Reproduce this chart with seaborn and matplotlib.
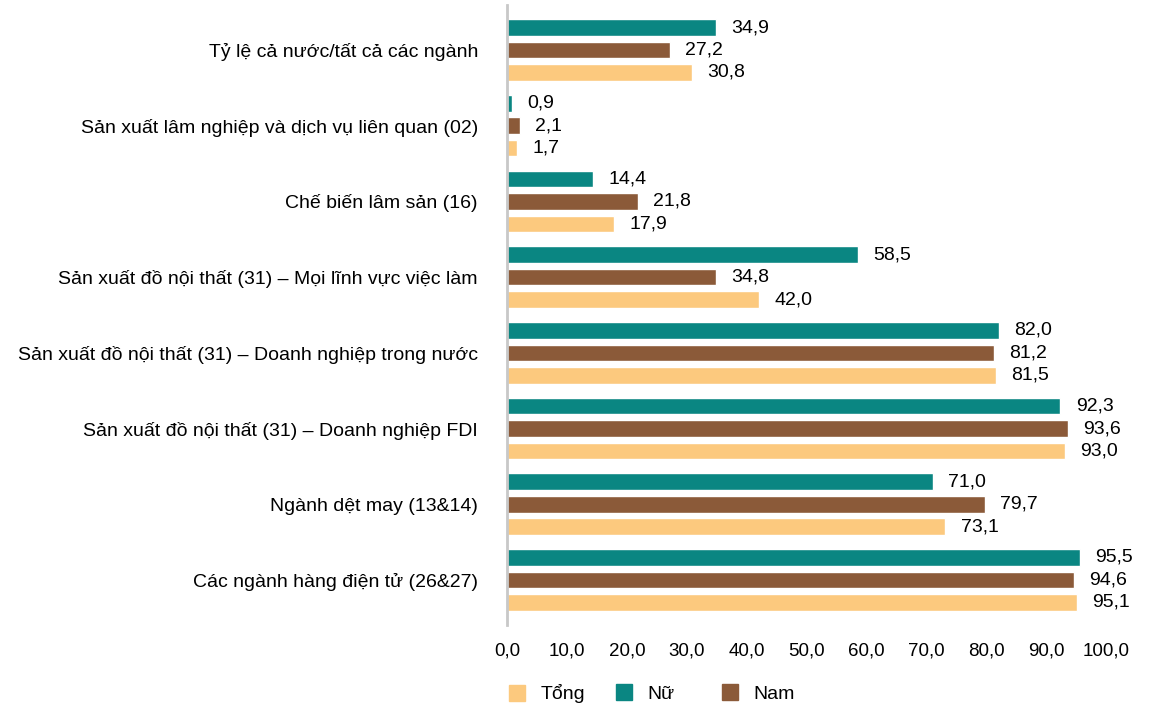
import pandas as pd
import numpy as np
import seaborn as sns
import matplotlib.pyplot as plt
from matplotlib.lines import Line2D

# du lieu doc tu bieu do
nganh = [
    'Tỷ lệ cả nước/tất cả các ngành',
    'Sản xuất lâm nghiệp và dịch vụ liên quan (02)',
    'Chế biến lâm sản (16)',
    'Sản xuất đồ nội thất (31) – Mọi lĩnh vực việc làm',
    'Sản xuất đồ nội thất (31) – Doanh nghiệp trong nước',
    'Sản xuất đồ nội thất (31) – Doanh nghiệp FDI',
    'Ngành dệt may (13&14)',
    'Các ngành hàng điện tử (26&27)',
]
nu = [34.9, 0.9, 14.4, 58.5, 82.0, 92.3, 71.0, 95.5]
nam = [27.2, 2.1, 21.8, 34.8, 81.2, 93.6, 79.7, 94.6]
tong = [30.8, 1.7, 17.9, 42.0, 81.5, 93.0, 73.1, 95.1]
x_ticks = [0, 10, 20, 30, 40, 50, 60, 70, 80, 90, 100]

mau = {'Nữ': '#0a8682', 'Nam': '#8b5a39', 'Tổng': '#fcc97e'}
thu_tu = ['Nữ', 'Nam', 'Tổng']

df = pd.DataFrame({
    'nganh': nganh * 3,
    'nhom': ['Nữ'] * len(nganh) + ['Nam'] * len(nganh) + ['Tổng'] * len(nganh),
    'gia_tri': nu + nam + tong,
})

sns.set_style('white')
plt.rcParams['font.family'] = ['Liberation Sans', 'DejaVu Sans']
plt.rcParams['text.color'] = 'black'
plt.rcParams['xtick.color'] = 'black'
plt.rcParams['ytick.color'] = 'black'

fig = plt.figure(figsize=(11.71, 7.08), dpi=100)
ax = fig.add_axes([0.433, 0.1167, 0.512, 0.8768])

sns.barplot(data=df, x='gia_tri', y='nganh', hue='nhom', order=nganh,
            hue_order=thu_tu, palette=mau, orient='h', width=0.89, gap=0.26,
            saturation=1, ax=ax, legend=False)

for cont in ax.containers:
    nhan = [f'{b.get_width():.1f}'.replace('.', ',') for b in cont]
    ax.bar_label(cont, labels=nhan, padding=11, fontsize=14, color='black')

ax.set_xlim(0, 100)
ax.set_ylim(7.6, -0.6)
ax.set_xticks(x_ticks)
ax.set_xticklabels([f'{t:.1f}'.replace('.', ',') for t in x_ticks], fontsize=13.5)
ax.set_ylabel('')
ax.set_xlabel('')
ax.tick_params(axis='y', labelsize=14, length=0, pad=21)
ax.tick_params(axis='x', length=0, pad=12)
for s in ['top', 'right', 'bottom']:
    ax.spines[s].set_visible(False)
ax.spines['left'].set_color('#c8c8c8')
ax.spines['left'].set_linewidth(2)

# chu thich: moi muc mot vi tri co dinh nhu ban goc
vi_tri = {'Tổng': 0.4336, 'Nữ': 0.525, 'Nam': 0.6155}
for k in ['Tổng', 'Nữ', 'Nam']:
    h = Line2D([0], [0], marker='s', linestyle='', markersize=11.5,
               markerfacecolor=mau[k], markeredgecolor=mau[k], label=k)
    fig.legend(handles=[h], loc='center left', bbox_to_anchor=(vi_tri[k], 0.0198),
               frameon=False, fontsize=14, handlelength=1, handletextpad=0.7,
               borderpad=0, borderaxespad=0)

fig.savefig('out.png', dpi=100)
